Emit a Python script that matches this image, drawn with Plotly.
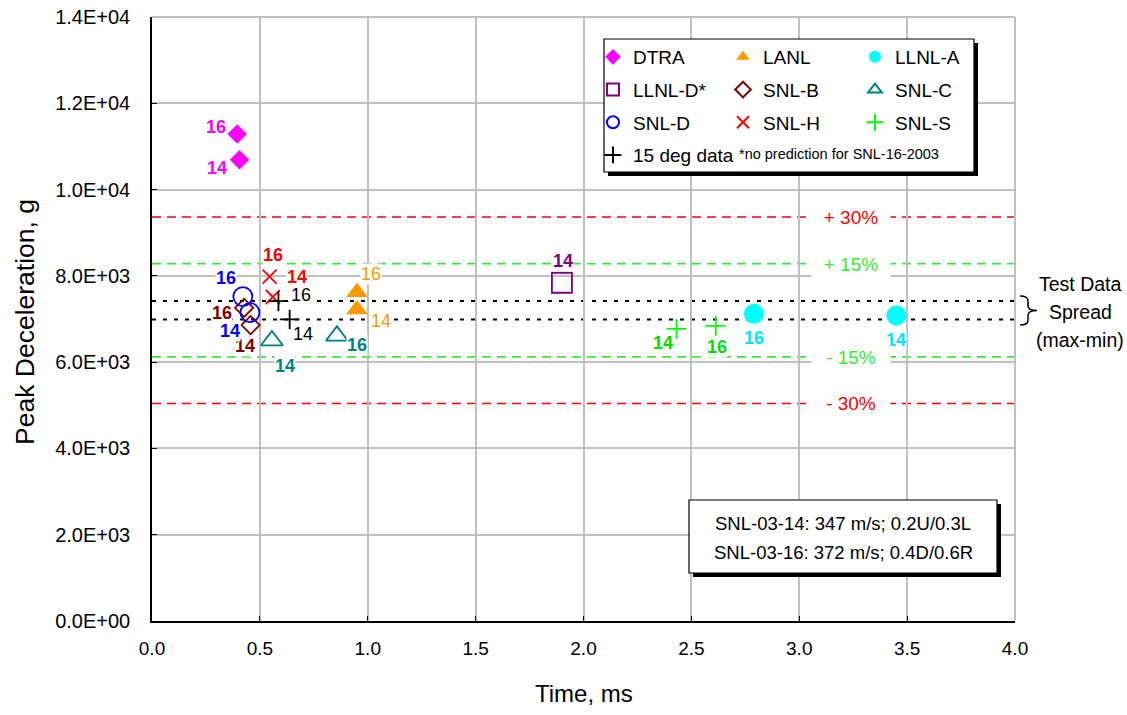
import plotly.graph_objects as go

# ---- axes -------------------------------------------------------------
X_MAX = 4.0
Y_MAX = 14000
x_ticks = [0.0, 0.5, 1.0, 1.5, 2.0, 2.5, 3.0, 3.5, 4.0]
y_ticks = [0, 2000, 4000, 6000, 8000, 10000, 12000, 14000]
y_tick_text = ["0.0E+00", "2.0E+03", "4.0E+03", "6.0E+03",
               "8.0E+03", "1.0E+04", "1.2E+04", "1.4E+04"]

# ---- predictions: time of peak (ms), peak deceleration (g), test no. ---
dtra_t = [0.395, 0.406]
dtra_g = [11290, 10690]
dtra_test = ["16", "14"]

lanl_t = [0.95, 0.95]
lanl_g = [7620, 7220]
lanl_test = ["16", "14"]

llnla_t = [2.79, 3.45]
llnla_g = [7120, 7080]
llnla_test = ["16", "14"]

llnld_t = [1.90]
llnld_g = [7840]
llnld_test = ["14"]

snlb_t = [0.427, 0.457]
snlb_g = [7260, 6860]
snlb_test = ["16", "14"]

snlc_t = [0.857, 0.556]
snlc_g = [6610, 6500]
snlc_test = ["16", "14"]

snld_t = [0.421, 0.454]
snld_g = [7520, 7150]
snld_test = ["16", "14"]

snlh_t = [0.545, 0.560]
snlh_g = [7980, 7510]
snlh_test = ["16", "14"]

snls_t = [2.613, 2.431]
snls_g = [6840, 6770]
snls_test = ["16", "14"]

# 15 degree test data
test_t = [0.586, 0.638]
test_g = [7415, 6990]
test_id = ["16", "14"]

# ---- page geometry (px) -------------------------------------------------
W, H = 1127, 715
L, R, T, B = 152, 1015, 17, 621
PW, PH = R - L, B - T


def px_x(px):
    return (px - L) / PW


def px_y(py):
    return (B - py) / PH


SANS = "Liberation Sans, Arial, sans-serif"

fig = go.Figure()

# series styling: name, data, marker, label colour/weight, label offsets (px: dx right, dy down), legend column
series = [
    dict(name="DTRA", t=dtra_t, g=dtra_g, ids=dtra_test, symbol="diamond", size=15,
         color="#ff00ff", filled=True, lab="#ff00ff", bold=True,
         off=[(-21, -7), (-23, 8)], legend="legend"),
    dict(name="LANL", t=lanl_t, g=lanl_g, ids=lanl_test, symbol="triangle-up", size=19,
         color="#ff9900", filled=True, lab="#ff9900", bold=False,
         off=[(14, -18), (24, 11)], legend="legend2"),
    dict(name="LLNL-A", t=llnla_t, g=llnla_g, ids=llnla_test, symbol="circle", size=20,
         color="#00ffff", filled=True, lab="#00e5ff", bold=True,
         off=[(0, 24), (0, 24)], legend="legend3"),
    dict(name="LLNL-D*", t=llnld_t, g=llnld_g, ids=llnld_test, symbol="square-open", size=20,
         color="#800080", filled=False, lab="#800080", bold=True,
         off=[(1, -22)], legend="legend"),
    dict(name="SNL-B", t=snlb_t, g=snlb_g, ids=snlb_test, symbol="diamond-open", size=14,
         color="#800000", filled=False, lab="#800000", bold=True,
         off=[(-22, 5), (-6, 21)], legend="legend2"),
    dict(name="SNL-C", t=snlc_t, g=snlc_g, ids=snlc_test, symbol="triangle-up-open", size=19,
         color="#008080", filled=False, lab="#008080", bold=True,
         off=[(20, 9), (13, 25)], legend="legend3"),
    dict(name="SNL-D", t=snld_t, g=snld_g, ids=snld_test, symbol="circle-open", size=19,
         color="#0000ff", filled=False, lab="#0000ff", bold=True,
         off=[(-17, -19), (-20, 18)], legend="legend"),
    dict(name="SNL-H", t=snlh_t, g=snlh_g, ids=snlh_test, symbol="x-thin-open", size=14,
         color="#ff0000", filled=False, lab="#ff0000", bold=True,
         off=[(3, -22), (24, -20)], legend="legend2"),
    dict(name="SNL-S", t=snls_t, g=snls_g, ids=snls_test, symbol="cross-thin-open", size=14,
         color="#00ff00", filled=False, lab="#00dd00", bold=True,
         off=[(1, 21), (-13, 14)], legend="legend3"),
    dict(name="15 deg data", t=test_t, g=test_g, ids=test_id, symbol="cross-thin-open", size=14,
         color="#000000", filled=False, lab="#000000", bold=False,
         off=[(23, -6), (13, 15)], legend="legend"),
]


def note(x, y, text, size, color="black", xref="paper", yref="paper", **kw):
    a = dict(x=x, y=y, xref=xref, yref=yref, text=text, showarrow=False,
             xanchor="center", yanchor="middle",
             font=dict(family=SANS, size=size, color=color))
    a.update(kw)
    return a


annotations = []
for s in series:
    marker = dict(symbol=s["symbol"], size=s["size"])
    if s["filled"]:
        marker.update(color=s["color"], line=dict(width=0))
    else:
        marker.update(color=s["color"], line=dict(color=s["color"], width=1.8))
    fig.add_trace(go.Scatter(
        x=s["t"], y=s["g"], mode="markers", name=s["name"], marker=marker,
        legend=s["legend"], legendgroup=s["name"], showlegend=True,
    ))
    for (xv, yv, txt, (dx, dy)) in zip(s["t"], s["g"], s["ids"], s["off"]):
        label = f"<b>{txt}</b>" if s["bold"] else txt
        annotations.append(note(xv, yv, label, 18, s["lab"], xref="x", yref="y",
                                xshift=dx, yshift=-dy, bgcolor="white", borderpad=0))

# test-data spread and +/- percentage bands
spread_hi = max(test_g)
spread_lo = min(test_g)
test_mean = (spread_hi + spread_lo) / 2
bands = [("+ 30%", 1.30, "#ff0000"), ("+ 15%", 1.15, "#33ee33"),
         ("- 15%", 0.85, "#33ee33"), ("- 30%", 0.70, "#ff0000")]

shapes = []
for lbl, f, col in bands:
    yv = test_mean * f
    shapes.append(dict(type="line", xref="paper", yref="y", x0=0, x1=1, y0=yv, y1=yv,
                       line=dict(color=col, width=1.6, dash="9px,6px"), layer="between"))
    annotations.append(note(3.24, yv, lbl, 19, col, xref="x", yref="y",
                            width=76, height=26, bgcolor="white"))
for yv in (spread_hi, spread_lo):
    shapes.append(dict(type="line", xref="paper", yref="y", x0=0, x1=1, y0=yv, y1=yv,
                       line=dict(color="black", width=2, dash="4px,7px"), layer="between"))

# grid edges at the top and right of the plot
shapes.append(dict(type="line", xref="paper", yref="paper", x0=0, x1=1, y0=1, y1=1,
                   line=dict(color="#c0c0c0", width=2), layer="below"))
shapes.append(dict(type="line", xref="paper", yref="paper", x0=1, x1=1, y0=0, y1=1,
                   line=dict(color="#c0c0c0", width=2), layer="below"))

# brace beside the spread lines
bx0, bx1, bx2 = px_x(1020), px_x(1028), px_x(1037)
yt, yb = (spread_hi + 120) / Y_MAX, (spread_lo - 130) / Y_MAX
ym = (yt + yb) / 2
d = 0.008
brace = (f"M{bx0},{yt} Q{bx1},{yt} {bx1},{yt - d} L{bx1},{ym + d} "
         f"Q{bx1},{ym} {bx2},{ym} Q{bx1},{ym} {bx1},{ym - d} "
         f"L{bx1},{yb + d} Q{bx1},{yb} {bx0},{yb}")
shapes.append(dict(type="path", xref="paper", yref="paper", path=brace,
                   line=dict(color="black", width=1.5), layer="above"))
for txt, py in (("Test Data", 284), ("Spread", 312), ("(max-min)", 340)):
    annotations.append(note(px_x(1080), px_y(py), txt, 19.5))

# legend frame with drop shadow
lx0, lx1, ly0, ly1 = 604, 974, 39, 172
sh = 4
shapes.append(dict(type="rect", xref="paper", yref="paper",
                   x0=px_x(lx0 + sh), x1=px_x(lx1 + sh), y0=px_y(ly1 + sh), y1=px_y(ly0 + sh),
                   fillcolor="black", line=dict(width=0), layer="above"))
shapes.append(dict(type="rect", xref="paper", yref="paper",
                   x0=px_x(lx0), x1=px_x(lx1), y0=px_y(ly1), y1=px_y(ly0),
                   fillcolor="white", line=dict(color="black", width=1.2), layer="above"))
annotations.append(note(px_x(737), px_y(154), "*no prediction for SNL-16-2003", 14.5,
                        xanchor="left"))

# test conditions box with drop shadow
bx_0, bx_1, by_0, by_1 = 689, 997, 500, 573
shapes.append(dict(type="rect", xref="paper", yref="paper",
                   x0=px_x(bx_0 + sh), x1=px_x(bx_1 + sh), y0=px_y(by_1 + sh), y1=px_y(by_0 + sh),
                   fillcolor="black", line=dict(width=0), layer="above"))
shapes.append(dict(type="rect", xref="paper", yref="paper",
                   x0=px_x(bx_0), x1=px_x(bx_1), y0=px_y(by_1), y1=px_y(by_0),
                   fillcolor="white", line=dict(color="black", width=1.2), layer="above"))
for txt, py in (("SNL-03-14: 347 m/s; 0.2U/0.3L", 523.5), ("SNL-03-16: 372 m/s; 0.4D/0.6R", 552)):
    annotations.append(note(px_x(843), px_y(py), txt, 18.5))

# axis titles
annotations.append(note(0.5, px_y(693), "Time, ms", 24))
annotations.append(note(px_x(25), px_y(322), "Peak Deceleration, g", 26.5, textangle=-90))

legend_common = dict(bgcolor="rgba(0,0,0,0)", borderwidth=0, orientation="v",
                     itemsizing="constant", tracegroupgap=5, xanchor="left", yanchor="top",
                     font=dict(family=SANS, size=19, color="black"))
legend_top = px_y(38)

fig.update_layout(
    width=W, height=H,
    margin=dict(l=L, r=W - R, t=T, b=H - B, autoexpand=False),
    paper_bgcolor="white", plot_bgcolor="white",
    showlegend=True,
    legend=dict(x=px_x(593), y=legend_top, **legend_common),
    legend2=dict(x=px_x(723), y=legend_top, **legend_common),
    legend3=dict(x=px_x(855), y=legend_top, **legend_common),
    xaxis=dict(range=[0, X_MAX], tickvals=x_ticks, tickformat=".1f",
               showgrid=True, gridcolor="#c0c0c0", gridwidth=2, zeroline=False,
               showline=True, linecolor="black", linewidth=1.5,
               ticks="inside", ticklen=5, tickcolor="black", tickwidth=1,
               ticklabelstandoff=9,
               tickfont=dict(family=SANS, size=19, color="black")),
    yaxis=dict(range=[0, Y_MAX], tickvals=y_ticks, ticktext=y_tick_text,
               showgrid=True, gridcolor="#c0c0c0", gridwidth=2, zeroline=False,
               showline=True, linecolor="black", linewidth=1.5,
               ticks="inside", ticklen=5, tickcolor="black", tickwidth=1,
               ticklabelstandoff=16,
               tickfont=dict(family=SANS, size=20, color="black")),
    shapes=shapes,
    annotations=annotations,
)

fig.write_html("out.html")
